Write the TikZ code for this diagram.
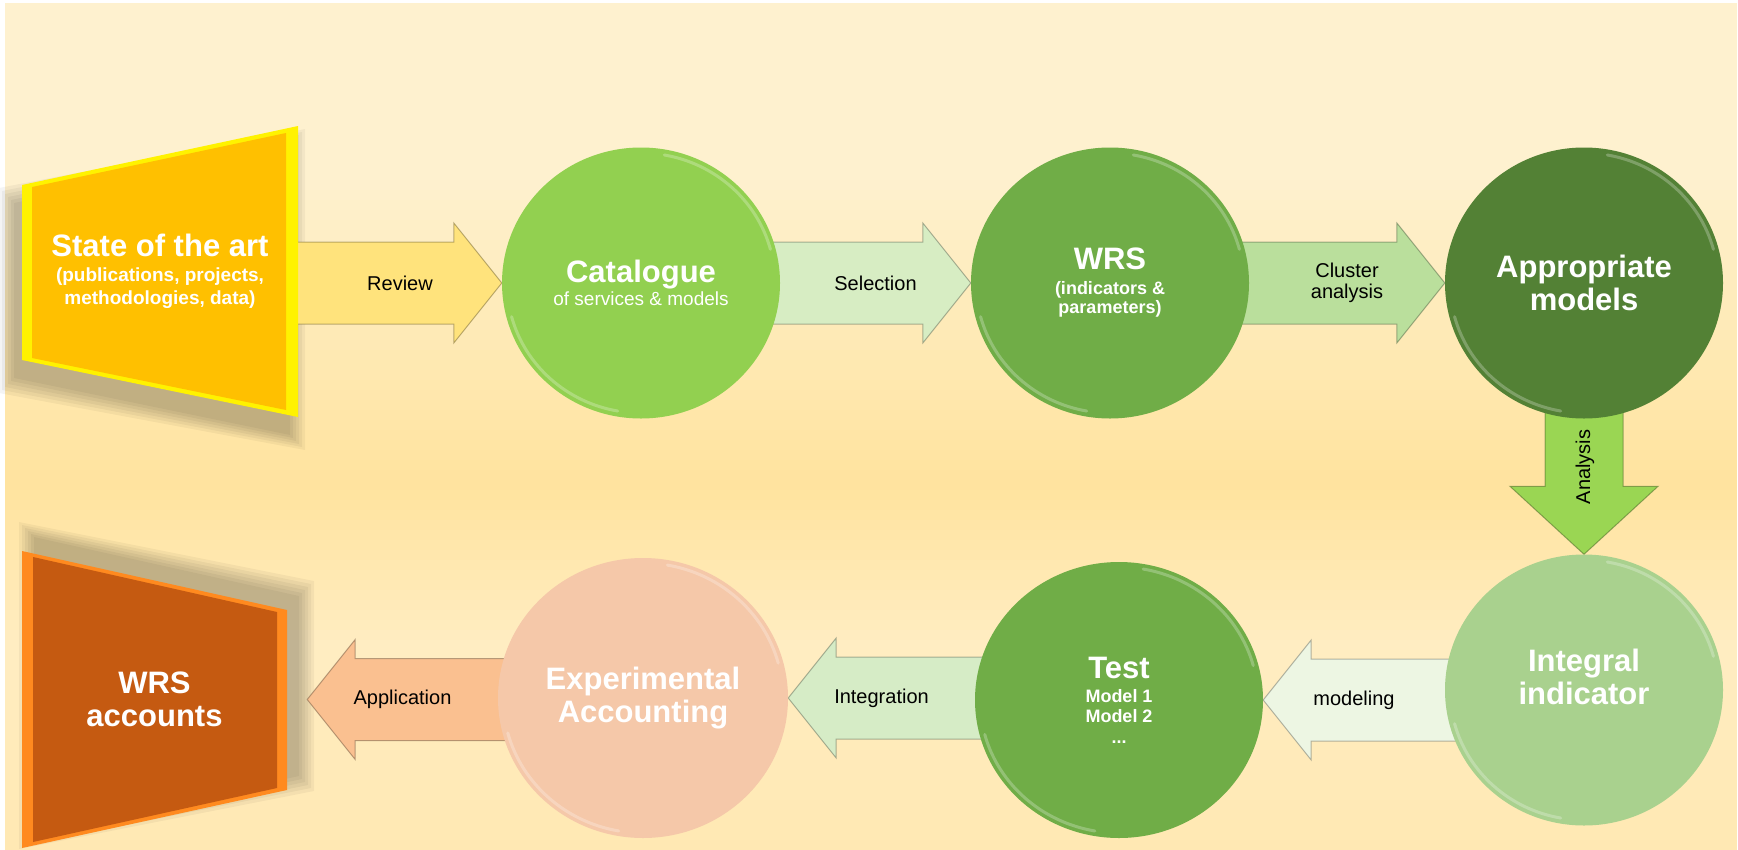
\documentclass[tikz,border=0pt]{standalone}
\usepackage{fontspec}
\setmainfont{Liberation Sans}
\usepackage{tikz}
\usetikzlibrary{calc}
\usetikzlibrary{shapes}

\definecolor{bgtop}{HTML}{FEF1CF}
\definecolor{bgmid}{HTML}{FFE39E}
\definecolor{bglow}{HTML}{FFEDC2}
\definecolor{bgbot}{HTML}{FFE8B2}
\definecolor{sotafill}{HTML}{FFC000}
\definecolor{sotabevel}{HTML}{FFF200}
\definecolor{accfill}{HTML}{C55A11}
\definecolor{accbevel}{HTML}{FF8A1F}
\definecolor{catfill}{HTML}{92D050}
\definecolor{wrsfill}{HTML}{70AD47}
\definecolor{apprfill}{HTML}{538135}
\definecolor{integfill}{HTML}{A9D18E}
\definecolor{testfill}{HTML}{70AD47}
\definecolor{exptfill}{HTML}{F5C8A9}
\definecolor{reviewfill}{HTML}{FFE37C}
\definecolor{selectfill}{HTML}{D7EDC3}
\definecolor{clusterfill}{HTML}{BADF9C}
\definecolor{analysisfill}{HTML}{9AD653}
\definecolor{modelfill}{HTML}{EDF6E3}
\definecolor{integrfill}{HTML}{D6ECC6}
\definecolor{applyfill}{HTML}{FAC090}

\pgfdeclarelayer{back}
\pgfdeclarelayer{flow}
\pgfsetlayers{back,flow,main}

\newcommand{\titlefont}{\fontsize{31}{33}\selectfont\bfseries}
\newcommand{\subfont}{\fontsize{19}{23}\selectfont\bfseries}
\newcommand{\smallsub}{\fontsize{18}{20}\selectfont\bfseries}
\newcommand{\lblfont}{\fontsize{20}{21}\selectfont}

\tikzset{
  stage/.style={ellipse, inner sep=0pt, minimum width=278pt, minimum height=271pt, text=white, align=center, font=\titlefont},
  boxtext/.style={inner sep=0pt, text=white, align=center, font=\titlefont},
  lbl/.style={inner sep=0pt, text=black, align=center, font=\lblfont},
  blockarrow/.style={line width=1pt, draw opacity=0.55, line join=miter},
  rimline/.style={white, opacity=0.25, line width=3pt, line cap=round},
  shadowfill/.style={black, opacity=0.045}
}

% block arrow: from, tip, colour, label, name
\newcommand{\harrow}[5]{
  \begin{pgfonlayer}{flow}
  \draw[blockarrow, fill=#3, draw=#3!50!black] let \p1=(#1), \p2=(#2), \n1={sign(\x2-\x1)} in
    ({\x1-\n1*30pt},{\y2+41pt}) -- ({\x2-\n1*48pt},{\y2+41pt}) -- ({\x2-\n1*48pt},{\y2+60pt}) -- (\x2,\y2)
    -- ({\x2-\n1*48pt},{\y2-60pt}) -- ({\x2-\n1*48pt},{\y2-41pt}) -- ({\x1-\n1*30pt},{\y2-41pt}) -- cycle;
  \path let \p1=(#1), \p2=(#2) in node[lbl] (#5) at ({(\x1+\x2)/2},\y2) {#4};
  \end{pgfonlayer}
}
% light rim on a stage
\newcommand{\rim}[3]{
  \draw[rimline] ($(#1.center)+(15:#2 and #3)$) arc[start angle=15, end angle=80, x radius=#2, y radius=#3];
  \draw[rimline] ($(#1.center)+(195:#2 and #3)$) arc[start angle=195, end angle=260, x radius=#2, y radius=#3];
}

\begin{document}
\begin{tikzpicture}[x=1pt, y=1pt]
        \useasboundingbox (0,0) rectangle (1738,-849);
        \begin{pgfonlayer}{back}
        % background bands
        \fill[bgtop] (5,-3) rectangle (1737,-171);
        \foreach \y in {170,180,...,480}
          {\pgfmathtruncatemacro{\p}{(\y-170)/3.1} \fill[bgmid!\p!bgtop] (5,-\y) rectangle (1737,-\y-11);}
        \foreach \y in {490,500,...,640}
          {\pgfmathtruncatemacro{\p}{(\y-480)/1.6} \fill[bglow!\p!bgmid] (5,-\y) rectangle (1737,-\y-11);}
        \foreach \y in {650,660,...,850}
          {\pgfmathtruncatemacro{\p}{min(100,(\y-640)/2.1)} \fill[bgbot!\p!bglow] (5,-\y) rectangle (1737,-\y-11);}
        % shadows
        \foreach \d in {0,3,...,15}
          \fill[shadowfill] (14-\d,-203+\d) -- (290+\d,-144+\d) -- (290+\d,-435-\d) -- (14-\d,-378-\d) -- cycle;
        \foreach \d in {0,3,...,15}
          \fill[shadowfill] (34-\d,-537+\d) -- (299+\d,-596+\d) -- (299+\d,-776-\d) -- (34-\d,-834-\d) -- cycle;
        \end{pgfonlayer}

        % state of the art
        \fill[sotabevel] (22,-185) -- (298,-126) -- (298,-417) -- (22,-360) -- cycle;
        \fill[sotafill] (32,-187) -- (286,-133) -- (286,-410) -- (32,-358) -- cycle;
        \node[boxtext, minimum width=276pt, minimum height=291pt] (sota) at (160,-271.5)
          {State of the art\\[-8pt] \subfont (publications, projects,\\[-10pt] \subfont methodologies, data)};

        % WRS accounts
        \fill[accbevel] (22,-551) -- (287,-610) -- (287,-790) -- (22,-848) -- cycle;
        \fill[accfill] (33,-557) -- (277,-612) -- (277,-788) -- (33,-842) -- cycle;
        \node[boxtext, minimum width=265pt, minimum height=297pt] (wrsacc) at (154.5,-699.5) {WRS\\accounts};

        % row1
        \node[stage, fill=catfill] (cat) at (641,-283) {Catalogue\\[-10pt] \subfont\mdseries of services \& models};
        \node[stage, fill=wrsfill] (wrs) at (1110,-283) {WRS\\[-8pt] \smallsub (indicators \&\\[-14pt] \smallsub parameters)};
        \node[stage, fill=apprfill] (appr) at (1584,-283) {Appropriate\\models};
        % row2
        \node[stage, fill=integfill] (integ) at (1584,-690) {};
        \node[boxtext] (integtext) at ([yshift=13pt]integ.center) {Integral\\indicator};
        \node[stage, fill=testfill, minimum width=288pt, minimum height=276pt] (test) at (1119,-700)
          {Test\\[-9pt] \smallsub Model 1\\[-13pt] \smallsub Model 2\\[-12pt] \smallsub ...};
        \node[stage, fill=exptfill, minimum width=290pt, minimum height=280pt] (expt) at (643,-698) {Experimental\\Accounting};

        \rim{cat}{134}{130}
        \rim{wrs}{134}{130}
        \rim{appr}{134}{130}
        \rim{integ}{134}{130}
        \rim{test}{139}{133}
        \rim{expt}{140}{135}

        % arrows
        \harrow{sota.east}{cat.west}{reviewfill}{Review}{review}
        \harrow{cat.east}{wrs.west}{selectfill}{Selection}{select}
        \harrow{wrs.east}{appr.west}{clusterfill}{Cluster\\analysis}{cluster}
        \harrow{integ.west}{test.east}{modelfill}{modeling}{model}
        \harrow{test.west}{expt.east}{integrfill}{Integration}{integr}
        \harrow{expt.west}{$(wrsacc.east)+(20,0)$}{applyfill}{Application}{apply}
        \begin{pgfonlayer}{flow}
        \draw[blockarrow, fill=analysisfill, draw=analysisfill!50!black] let \p1=(appr.south), \p2=(integ.north) in
          ({\x2-39pt},{\y1+30pt}) -- ({\x2-39pt},{\y2+68pt}) -- ({\x2-74pt},{\y2+68pt}) -- (\x2,\y2)
          -- ({\x2+74pt},{\y2+68pt}) -- ({\x2+39pt},{\y2+68pt}) -- ({\x2+39pt},{\y1+30pt}) -- cycle;
        \node[lbl, rotate=90] (analysis) at (1585,-467) {Analysis};
        \end{pgfonlayer}
\end{tikzpicture}
\end{document}
